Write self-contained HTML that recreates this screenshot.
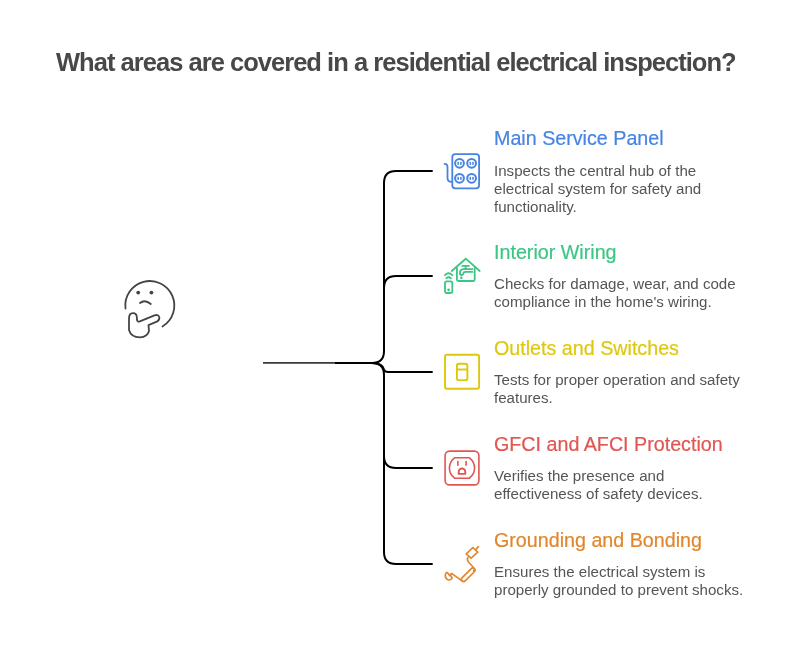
<!DOCTYPE html>
<html><head><meta charset="utf-8">
<style>
html,body{margin:0;padding:0;background:#fff;width:792px;height:672px;overflow:hidden;}
body{position:relative;font-family:"Liberation Sans",sans-serif;}
.t{position:absolute;white-space:nowrap;will-change:transform;}
#title{left:56px;top:46px;font-size:25.5px;line-height:32px;font-weight:bold;color:#484848;letter-spacing:-0.97px;}
.h{font-size:19.7px;line-height:24px;left:494.3px;-webkit-text-stroke:0.2px currentColor;}
.d{font-size:15.1px;line-height:18px;left:494.4px;color:#555;}
svg{position:absolute;left:0;top:0;}
</style></head>
<body>
<div id="title" class="t">What areas are covered in a residential electrical inspection?</div>

<div class="t h" style="top:126px;color:#4683e2">Main Service Panel</div>
<div class="t d" style="top:162px">Inspects the central hub of the<br>electrical system for safety and<br>functionality.</div>

<div class="t h" style="top:240px;color:#3cc583">Interior Wiring</div>
<div class="t d" style="top:275px">Checks for damage, wear, and code<br>compliance in the home's wiring.</div>

<div class="t h" style="top:336px;color:#dec80e">Outlets and Switches</div>
<div class="t d" style="top:371px">Tests for proper operation and safety<br>features.</div>

<div class="t h" style="top:432px;color:#e15552">GFCI and AFCI Protection</div>
<div class="t d" style="top:467px">Verifies the presence and<br>effectiveness of safety devices.</div>

<div class="t h" style="top:528px;color:#e0872e">Grounding and Bonding</div>
<div class="t d" style="top:563px">Ensures the electrical system is<br>properly grounded to prevent shocks.</div>

<svg width="792" height="672" viewBox="0 0 792 672" fill="none" stroke-linecap="round" stroke-linejoin="round">
  <!-- root line -->
  <line x1="263" y1="362.9" x2="336" y2="362.9" stroke="#3a3a3a" stroke-width="1.7" stroke-linecap="butt"/>
  <g stroke="#000" stroke-width="2" stroke-linecap="butt">
    <line x1="335" y1="363" x2="374" y2="363"/>
    <path d="M372 363 Q384 363 384 351 L384 183 Q384 171 396 171 L432.7 171"/>
    <path d="M384 288 Q384 276 396 276 L432.7 276"/>
    <path d="M372 363 Q383 363.5 384 369.5 Q384.5 372 388 372 L432.7 372"/>
    <path d="M372 363 Q384 363 384 375 L384 552 Q384 564 396 564 L432.7 564"/>
    <path d="M384 456 Q384 468 396 468 L432.7 468"/>
  </g>

  <!-- thinking face -->
  <g stroke="#444" stroke-width="1.8">
    <path d="M125.5 308.5 A24.5 24.5 0 1 1 162.5 326.5"/>
    <path d="M140 303 Q145 299 150.8 304"/>
    <path d="M129 318.7 Q129 313.2 133 313.2 Q136.6 313.2 136.8 317 L137 320 Q137.6 322.2 139.8 321.4 L154.5 315.3 Q158.5 314.2 159.3 317.2 Q159.8 320.2 156.8 321.7 L148.5 325.2 L149 331 Q147.5 337 140 337.3 Q131 337.3 129 330 Z"/>
  </g>
  <circle cx="138.2" cy="292.6" r="1.9" fill="#444"/>
  <circle cx="151.4" cy="292.6" r="1.9" fill="#444"/>

  <!-- icon 1: main service panel -->
  <g stroke="#4683e2" stroke-width="1.8">
    <rect x="452.3" y="154.1" width="26.8" height="34.2" rx="3"/>
    <circle cx="459.5" cy="163.3" r="4.4" stroke-width="2"/>
    <circle cx="471.6" cy="163.3" r="4.4" stroke-width="2"/>
    <circle cx="459.5" cy="178.3" r="4.4" stroke-width="2"/>
    <circle cx="471.6" cy="178.3" r="4.4" stroke-width="2"/>
    <path d="M444.5 163.8 Q447.5 163.8 447.5 167 L447.5 178 Q447.5 181.8 451.5 181.8"/>
  </g>
  <g stroke="#4683e2" stroke-width="1.6">
    <path d="M458.2 162.5v1.8M460.9 162.5v1.8M470.3 162.5v1.8M473 162.5v1.8M458.2 177.5v1.8M460.9 177.5v1.8M470.3 177.5v1.8M473 177.5v1.8"/>
  </g>

  <!-- icon 2: interior wiring -->
  <g stroke="#3cc583" stroke-width="1.8">
    <path d="M451.7 271 L465.8 258.7 L479.7 271"/>
    <path d="M456.9 268 L456.9 279.5 Q456.9 281 458.4 281 L473.2 281 Q474.7 281 474.7 279.5 L474.7 268"/>
    <path d="M462.3 265.9 L468.9 265.9 M465.6 265.9 L465.6 269"/>
    <path d="M472.5 269.1 L464 269.1 Q459.9 269.1 459.9 273 Q459.9 275 461.6 275 Q463.3 275 463.3 273.6 Q463.5 271.9 465.5 271.9 L472.5 271.9"/>
    <rect x="445" y="281.3" width="7.3" height="11.7" rx="1.5"/>
    <path d="M444.9 275.1 Q448.6 271.5 452.3 275.1"/>
    <path d="M446.3 278.2 Q448.6 276.4 450.9 278.2"/>
  </g>
  <circle cx="461.3" cy="277.7" r="1.3" fill="#3cc583"/>
  <circle cx="448.6" cy="289.8" r="1.35" fill="#3cc583"/>

  <!-- icon 3: outlets and switches -->
  <g stroke="#dec80e" stroke-width="1.9">
    <rect x="445" y="354.8" width="34.1" height="34" rx="2"/>
    <rect x="456.9" y="363.8" width="10.5" height="16.3" rx="1.9"/>
    <line x1="457" y1="369.5" x2="467.3" y2="369.5" stroke-linecap="butt"/>
  </g>

  <!-- icon 4: GFCI -->
  <g stroke="#e15552" stroke-width="1.6">
    <rect x="445.1" y="451.1" width="33.8" height="33.8" rx="4.5"/>
    <path d="M454.5 457.8 L469.5 457.8 Q474.6 462 474.6 468 Q474.6 474 469.5 478.2 L454.5 478.2 Q449.4 474 449.4 468 Q449.4 462 454.5 457.8 Z"/>
    <path d="M457.9 461.6 L457.9 465.3 M466.1 461.6 L466.1 465.3"/>
    <path d="M458.7 473.9 L458.7 471.8 A3.3 3.3 0 0 1 465.3 471.8 L465.3 473.9 Z" stroke-width="1.9"/>
  </g>

  <!-- icon 5: grounding -->
  <g stroke="#e0872e" stroke-width="1.65">
    <path d="M466.2 553.9 L472.9 547.5 L477.8 552.1 L471.1 558.2 Z"/>
    <path d="M475.8 549.6 L478.4 546.6"/>
    <path d="M468 557.5 Q466.5 559.5 468.5 562 L473.5 567.5 Q475 569.5 473.5 571"/>
    <rect x="466" y="566.1" width="4.4" height="17.4" rx="2.2" transform="rotate(45 468.2 574.8)"/>
    <path d="M461.6 580.6 L453 574.3 Q451 572.8 450.6 574.8 Q450.6 576.5 452.3 577.8 Q451.3 580.3 448.6 580 Q445.4 579.2 445.3 575.6 Q445.6 572.3 447.2 572.5 Q448.6 573.5 449.6 575.6"/>
  </g>
</svg>
</body></html>
